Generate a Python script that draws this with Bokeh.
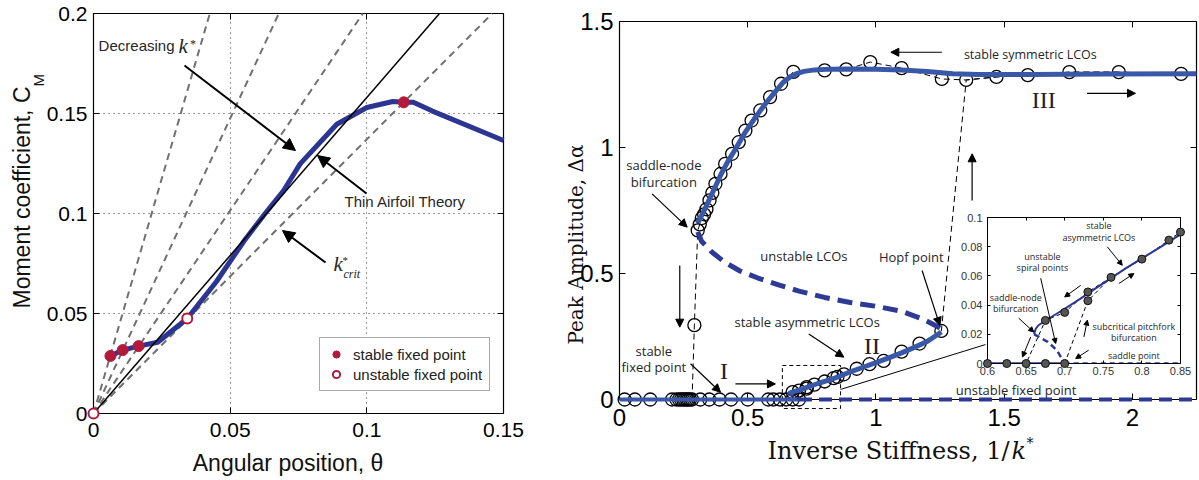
import numpy as np
from bokeh.plotting import figure
from bokeh.models import (Range1d, LinearAxis, FixedTicker, PrintfTickFormatter, Label,
                          Arrow, NormalHead, Legend, LegendItem, GridBox)
from bokeh.embed import file_html
from bokeh.resources import INLINE

SANS = "Liberation Sans"
SERIF = "DejaVu Serif"
ROMAN = "Liberation Serif"
NOTE = "Open Sans"

# ---------------- Left panel: static moment curve ----------------
curve_theta = [0.0062, 0.0107, 0.0165, 0.0235, 0.0343, 0.045, 0.055, 0.0625, 0.0695,
               0.0756, 0.089, 0.100, 0.1095, 0.1135, 0.117, 0.124, 0.150]
curve_cm = [0.0288, 0.0317, 0.0337, 0.0356, 0.0475, 0.066, 0.0861, 0.0995, 0.1114,
            0.1248, 0.1446, 0.1530, 0.1560, 0.1556, 0.1556, 0.1512, 0.1365]
stable_theta = [0.0062, 0.0107, 0.0165, 0.1135]
stable_cm = [0.0288, 0.0317, 0.0337, 0.1556]
unstable_theta = [0.0, 0.0343]
unstable_cm = [0.0, 0.0475]
spring_slopes = [4.7, 2.95, 2.03, 1.371]      # k* lines; the last is k*_crit
thin_airfoil_slope = 1.58
left_x_ticks = [0, 0.05, 0.1, 0.15]
left_y_ticks = [0, 0.05, 0.1, 0.15, 0.2]

# ---------------- Right panel: bifurcation diagram ----------------
fixed_x = [0.02, 0.06, 0.12, 0.205, 0.222, 0.232, 0.24, 0.248, 0.255, 0.262, 0.268, 0.275,
           0.283, 0.315, 0.35, 0.39, 0.435, 0.50, 0.58, 0.60, 0.625, 0.65, 0.675, 0.70]
fixed_y = [0.0, 0.0, 0.0, 0.0, 0.0, 0.0, 0.0, 0.0, 0.0, 0.0, 0.0, 0.0,
           0.0, 0.0, 0.0, 0.0, 0.0, 0.0, 0.0, 0.0, 0.0, 0.0, 0.0, 0.0]
jump_x = [0.292]
jump_y = [0.295]
asym_x = [0.675, 0.70, 0.73, 0.73, 0.76, 0.80, 0.835, 0.85, 0.875, 0.925, 0.975, 1.03,
          1.10, 1.17, 1.255]
asym_y = [0.0295, 0.035, 0.043, 0.049, 0.059, 0.0715, 0.0845, 0.090, 0.10, 0.122, 0.14,
          0.153, 0.19, 0.222, 0.272]
sym_x = [0.305, 0.313, 0.321, 0.33, 0.339, 0.351, 0.362, 0.374, 0.394, 0.412, 0.439, 0.465,
         0.491, 0.515, 0.549, 0.587, 0.63, 0.678, 0.80, 0.884, 0.978, 1.10, 1.257, 1.352,
         1.47, 1.592, 1.754, 1.947, 2.19]
sym_y = [0.671, 0.695, 0.72, 0.735, 0.755, 0.79, 0.82, 0.856, 0.895, 0.935, 0.975, 1.021,
         1.067, 1.107, 1.147, 1.20, 1.253, 1.30, 1.306, 1.31, 1.339, 1.315, 1.272, 1.268,
         1.28, 1.287, 1.299, 1.299, 1.292]

stable_fp_x = [0.0, 0.70]
stable_fp_y = [0.0, 0.0]
unstable_fp_x = [0.70, 2.25]
unstable_fp_y = [0.0, 0.0]
asym_line_x = [0.6603, 0.6625, 0.666, 0.68, 0.70, 0.72, 0.74, 0.76, 0.78, 0.80, 0.825,
               0.85, 0.90, 0.95, 1.00, 1.05, 1.10, 1.15, 1.20, 1.255]
asym_line_y = [0.0201, 0.0238, 0.0262, 0.031, 0.0375, 0.0443, 0.0515, 0.0585, 0.0655,
               0.072, 0.080, 0.0885, 0.11, 0.128, 0.146, 0.165, 0.185, 0.207, 0.23, 0.268]
spiral_x = [0.6603, 0.678, 0.69, 0.70]
spiral_y = [0.0201, 0.0148, 0.009, 0.0]
ulco_x = [0.305, 0.32, 0.36, 0.41, 0.47, 0.54, 0.62, 0.70, 0.80, 0.90, 1.00, 1.10, 1.18,
          1.23, 1.255]
ulco_y = [0.665, 0.628, 0.585, 0.545, 0.51, 0.482, 0.455, 0.43, 0.405, 0.385, 0.37, 0.35,
          0.32, 0.295, 0.28]
sym_line_x = [0.305, 0.33, 0.351, 0.374, 0.394, 0.42, 0.45, 0.49, 0.53, 0.57, 0.61, 0.64,
              0.665, 0.69, 0.72, 0.76, 0.82, 0.90, 1.0, 1.1, 1.2, 1.3, 1.4, 1.6, 1.9, 2.25]
sym_line_y = [0.70, 0.75, 0.795, 0.845, 0.89, 0.94, 0.99, 1.06, 1.12, 1.175, 1.225, 1.26,
              1.28, 1.293, 1.302, 1.308, 1.311, 1.312, 1.311, 1.308, 1.302, 1.293, 1.29,
              1.29, 1.292, 1.293]

# parameter sweeps (increasing / decreasing 1/k*)
sweep_up_x = [0.70, 0.73, 0.76, 0.80, 0.835, 0.85, 0.875, 0.925, 0.975, 1.03, 1.10, 1.17,
              1.255, 1.352, 1.47, 1.592, 1.754, 1.947, 2.19]
sweep_up_y = [0.0, 0.043, 0.059, 0.0715, 0.0845, 0.090, 0.10, 0.122, 0.14, 0.153, 0.19,
              0.222, 0.272, 1.268, 1.28, 1.287, 1.299, 1.299, 1.292]
sweep_down_x = [0.76, 0.73, 0.70, 0.675, 0.65]
sweep_down_y = [0.059, 0.049, 0.035, 0.0295, 0.0]
drop_x = [0.283, 0.292]
drop_y = [0.0, 0.295]

zoom_window_x = [0.635, 0.862]
zoom_window_y = [-0.036, 0.135]
connector_x = [0.862, 1.427]
connector_y = [0.04, 0.218]

right_x_ticks = [0, 0.5, 1, 1.5, 2]
right_y_ticks = [0, 0.5, 1, 1.5]
inset_x_ticks = [0.6, 0.65, 0.7, 0.75, 0.8, 0.85]
inset_y_ticks = [0, 0.02, 0.04, 0.06, 0.08, 0.1]

BLUE = "#3a58a8"
NAVY = "#2c3592"
DASH_BLUE = "#2e3b94"
RED = "#b3193b"


def style_axis(ax, ticks, size, standoff, tick_len=6, labels=True, width=1.2):
    ax.ticker = FixedTicker(ticks=ticks)
    ax.formatter = PrintfTickFormatter(format="%g")
    ax.major_tick_in = tick_len
    ax.major_tick_out = 0
    ax.minor_tick_line_color = None
    ax.axis_line_color = "black"
    ax.axis_line_width = width
    ax.major_tick_line_color = "black"
    ax.major_tick_line_width = 1
    ax.major_label_text_font = SANS
    if labels:
        ax.major_label_text_color = "black"
        ax.major_label_text_font_size = size
        ax.major_label_standoff = standoff
    else:
        ax.major_label_text_color = None
        ax.major_label_text_font_size = "1px"
        ax.major_label_standoff = 0


def base_fig(w, h, xr, yr, borders, **kw):
    bl, br, bt, bb = borders
    return figure(width=w, height=h, x_range=Range1d(*xr), y_range=Range1d(*yr), title=None,
                  output_backend="svg", toolbar_location=None, tools="",
                  min_border_left=bl, min_border_right=br, min_border_top=bt,
                  min_border_bottom=bb, **kw)


def overlay_fig(w, h, xr, yr, borders, pad=None):
    """Transparent figure sharing the pixel mapping of a base figure, with a wider frame."""
    bl, br, bt, bb = borders
    sx = (w - bl - br) / (xr[1] - xr[0])
    sy = (h - bt - bb) / (yr[1] - yr[0])
    el, er, et, eb = (bl, br, bt, bb) if pad is None else (pad, pad, pad, pad)
    p = figure(width=w, height=h, title=None,
               x_range=Range1d(xr[0] - el / sx, xr[1] + er / sx),
               y_range=Range1d(yr[0] - eb / sy, yr[1] + et / sy),
               x_axis_location=None, y_axis_location=None,
               output_backend="svg", toolbar_location=None, tools="",
               min_border_left=bl - el, min_border_right=br - er,
               min_border_top=bt - et, min_border_bottom=bb - eb,
               background_fill_color=None, border_fill_color=None, outline_line_color=None)
    p.grid.visible = False
    return p


def note(fig, x, y, text, size, font=NOTE, align="center", style="normal", angle=0.0,
         color="#262626"):
    fig.add_layout(Label(x=x, y=y, text=text, text_font=font, text_font_size=f"{size}px",
                         text_align=align, text_baseline="middle", text_font_style=style,
                         angle=angle, text_color=color))


def arrow(fig, x0, y0, x1, y1, head=8, width=1.2):
    fig.add_layout(Arrow(end=NormalHead(size=head, fill_color="black", line_color="black",
                                        line_width=1),
                         x_start=x0, y_start=y0, x_end=x1, y_end=y1,
                         line_width=width, line_color="black"))


def box_axes(p, xt, yt, size, xs, ys, tick_len=6, width=1.2, color="black"):
    style_axis(p.xaxis[0], xt, size, xs, tick_len=tick_len, width=width)
    style_axis(p.yaxis[0], yt, size, ys, tick_len=tick_len, width=width)
    p.xaxis[0].major_label_text_color = color
    p.yaxis[0].major_label_text_color = color
    top = LinearAxis()
    style_axis(top, xt, size, 0, tick_len=tick_len, labels=False, width=width)
    p.add_layout(top, "above")
    rgt = LinearAxis()
    style_axis(rgt, yt, size, 0, tick_len=tick_len, labels=False, width=width)
    p.add_layout(rgt, "right")


# ======================= left panel =======================
L_W, L_H, L_X, L_Y, L_B = 530, 480, (0, 0.15), (0, 0.2), (93, 27, 13, 67)
left = base_fig(L_W, L_H, L_X, L_Y, L_B, outline_line_color=None,
                background_fill_color="white", border_fill_color="white")
box_axes(left, left_x_ticks, left_y_ticks, "21px", 9, 6)
for g, t in ((left.xgrid[0], [0.05, 0.1]), (left.ygrid[0], [0.05, 0.1, 0.15])):
    g.ticker = FixedTicker(ticks=t)
    g.grid_line_color = "#333333"
    g.grid_line_dash = "1 4"
    g.grid_line_width = 1

lo = overlay_fig(L_W, L_H, L_X, L_Y, L_B)
line_xs, line_ys = [], []
for s in spring_slopes:
    xe = min(0.15, 0.2 / s)
    line_xs.append([0.0, xe])
    line_ys.append([0.0, s * xe])
lo.multi_line(line_xs, line_ys, line_color="#707070", line_width=2, line_dash="7 5")
lo.line(curve_theta, curve_cm, line_color=NAVY, line_width=5, line_join="round")
ta_end = 0.2 / thin_airfoil_slope
lo.line([0.0, ta_end], [0.0, thin_airfoil_slope * ta_end], line_color="black", line_width=1.5)
r_stable = lo.scatter(stable_theta, stable_cm, size=11, fill_color=RED, line_color=RED)
r_unstable = lo.scatter(unstable_theta, unstable_cm, size=10, fill_color="white",
                        line_color=RED, line_width=2)

legend = Legend(items=[LegendItem(label="stable fixed point", renderers=[r_stable]),
                       LegendItem(label="unstable fixed point", renderers=[r_unstable])],
                location=(319, 89), padding=7, spacing=2,
                glyph_width=18, glyph_height=18, label_height=18, label_standoff=8,
                label_text_font=SANS, label_text_font_size="15px", label_text_color="#222222",
                border_line_color="#555555", border_line_width=1,
                background_fill_color="white", background_fill_alpha=1.0)
lo.add_layout(legend)

note(lo, 0.02963, 0.1840, "Decreasing", 15, font=SANS, align="right")
note(lo, 0.0311, 0.1840, "k", 21, font=ROMAN, align="left", style="italic")
note(lo, 0.0353, 0.1850, "*", 12, font=ROMAN, align="left")
arrow(lo, 0.03329, 0.1740, 0.0739, 0.1315, head=12, width=2)
note(lo, 0.09183, 0.1060, "Thin Airfoil Theory", 15, font=SANS, align="left")
arrow(lo, 0.09988, 0.1100, 0.08195, 0.1290, head=12, width=2)
note(lo, 0.0878, 0.0750, "k", 21, font=ROMAN, align="left", style="italic")
note(lo, 0.0911, 0.0770, "*", 11, font=ROMAN, align="left")
note(lo, 0.09146, 0.0700, "crit", 12, font=ROMAN, align="left", style="italic")
arrow(lo, 0.08488, 0.0755, 0.06915, 0.0915, head=12, width=2)

note(lo, -0.02616, 0.1635, "Moment coefficient, C", 23, font=SANS, align="right",
     angle=np.pi / 2, color="#111111")
note(lo, -0.02012, 0.1635, "M", 15, font=SANS, align="left", angle=np.pi / 2,
     color="#111111")
note(lo, 0.07116, -0.0245, "Angular position, \u03b8", 23, font=SANS, color="#111111")

# ======================= right panel =======================
R_W, R_H, R_X, R_Y, R_B = 669, 480, (0, 2.25), (0, 1.5), (89, 3, 21, 81)
right = base_fig(R_W, R_H, R_X, R_Y, R_B, outline_line_color=None,
                 background_fill_color="white", border_fill_color="white")
right.xgrid.visible = False
right.ygrid.visible = False
box_axes(right, right_x_ticks, right_y_ticks, "24px", 9, 6)

ro = overlay_fig(R_W, R_H, R_X, R_Y, R_B)
# sweep paths and zoom window
ro.line(drop_x + sym_x, drop_y + sym_y, line_color="black", line_width=1, line_dash="6 4")
ro.line(sweep_up_x, sweep_up_y, line_color="black", line_width=1, line_dash="6 4")
ro.line(sweep_down_x, sweep_down_y, line_color="black", line_width=1, line_dash="6 4")
ro.quad(left=[zoom_window_x[0]], right=[zoom_window_x[1]], bottom=[zoom_window_y[0]],
        top=[zoom_window_y[1]], fill_color=None, line_color="black", line_width=1,
        line_dash="4 3")
ro.line(connector_x, connector_y, line_color="black", line_width=1)

# measured amplitudes
circ = dict(size=13, fill_color=None, line_color="black", line_width=1.3)
ro.scatter(fixed_x, fixed_y, **circ)
ro.scatter(jump_x, jump_y, **circ)
ro.scatter(asym_x, asym_y, **circ)
ro.scatter(sym_x, sym_y, **circ)

# computed branches
ro.line(unstable_fp_x, unstable_fp_y, line_color=DASH_BLUE, line_width=4, line_dash="13 7")
ro.line(stable_fp_x, stable_fp_y, line_color=BLUE, line_width=4)
ro.line(ulco_x, ulco_y, line_color=DASH_BLUE, line_width=5, line_dash="15 8")
ro.line(spiral_x, spiral_y, line_color=DASH_BLUE, line_width=3, line_dash="5 4")
ro.line(asym_line_x, asym_line_y, line_color=BLUE, line_width=5, line_join="round")
ro.line(sym_line_x, sym_line_y, line_color=BLUE, line_width=5, line_join="round")

note(ro, 1.602, 1.371, "stable symmetric LCOs", 12.5)
arrow(ro, 1.257, 1.378, 1.058, 1.378)
note(ro, 1.654, 1.187, "III", 24, font=ROMAN, color="#222222")
arrow(ro, 1.823, 1.215, 2.012, 1.215)
arrow(ro, 1.375, 0.79, 1.375, 0.975)
note(ro, 0.173, 0.931, "saddle-node", 13)
note(ro, 0.173, 0.865, "bifurcation", 13)
arrow(ro, 0.127, 0.816, 0.264, 0.684)
note(ro, 0.719, 0.571, "unstable LCOs", 13)
note(ro, 1.138, 0.565, "Hopf point", 13)
arrow(ro, 1.18, 0.512, 1.249, 0.294)
note(ro, 0.732, 0.307, "stable asymmetric LCOs", 13)
arrow(ro, 0.738, 0.26, 0.875, 0.168)
note(ro, 0.985, 0.214, "II", 24, font=ROMAN, color="#222222")
note(ro, 0.134, 0.194, "stable", 13)
note(ro, 0.134, 0.128, "fixed point", 13)
arrow(ro, 0.277, 0.142, 0.394, 0.029)
note(ro, 0.407, 0.112, "I", 24, font=ROMAN, color="#222222")
arrow(ro, 0.452, 0.062, 0.608, 0.062)
arrow(ro, 0.235, 0.532, 0.235, 0.287)
note(ro, 1.5465, 0.038, "unstable fixed point", 13)

note(ro, -0.1677, 0.615, "Peak Amplitude, \u0394\u03b1", 20, font=SERIF,
     angle=np.pi / 2, color="#111111")
note(ro, 1.5208, -0.2024, "Inverse Stiffness, 1/", 24, font=SERIF, align="right",
     color="#111111")
note(ro, 1.5286, -0.2024, "k", 24, font=SERIF, align="left", style="italic", color="#111111")
note(ro, 1.5871, -0.1746, "*", 14, font=SERIF, align="left", color="#111111")

# ======================= inset =======================
I_W, I_H, I_X, I_Y, I_B = 244, 173, (0.6, 0.85), (0, 0.1), (37, 14, 9, 18)
inset = base_fig(I_W, I_H, I_X, I_Y, I_B, outline_line_color=None,
                 background_fill_color="white", border_fill_color=None)
inset.xgrid.visible = False
inset.ygrid.visible = False
box_axes(inset, inset_x_ticks, inset_y_ticks, "11px", 3, 5, tick_len=3, width=1,
         color="#333333")
inset.line(unstable_fp_x, unstable_fp_y, line_color=DASH_BLUE, line_width=2.5, line_dash="5 4")
inset.line(stable_fp_x, stable_fp_y, line_color=NAVY, line_width=2.5)
inset.line(sweep_up_x, sweep_up_y, line_color="black", line_width=1, line_dash="4 3")
inset.line(sweep_down_x, sweep_down_y, line_color="black", line_width=1, line_dash="4 3")
inset.line(spiral_x, spiral_y, line_color=DASH_BLUE, line_width=2.5, line_dash="6 4")
inset.line(asym_line_x, asym_line_y, line_color=NAVY, line_width=2)

io = overlay_fig(I_W, I_H, I_X, I_Y, I_B, pad=5)
dot = dict(size=8, fill_color="#555555", line_color="#111111", line_width=1)
io.scatter(fixed_x, fixed_y, **dot)
io.scatter(asym_x, asym_y, **dot)

note(io, 0.7443, 0.0947, "stable", 9)
note(io, 0.7443, 0.0862, "asymmetric LCOs", 9)
arrow(io, 0.7552, 0.0799, 0.7746, 0.0673, head=5, width=1)
note(io, 0.6711, 0.0730, "unstable", 9)
note(io, 0.6711, 0.0658, "spiral points", 9)
arrow(io, 0.6689, 0.0584, 0.6883, 0.0137, head=5, width=1)
note(io, 0.6366, 0.0452, "saddle-node", 9)
note(io, 0.6366, 0.0377, "bifurcation", 9)
arrow(io, 0.6405, 0.0310, 0.6599, 0.0216, head=5, width=1)
note(io, 0.7896, 0.0251, "subcritical pitchfork", 9)
note(io, 0.7896, 0.0178, "bifurcation", 9)
note(io, 0.7896, 0.0057, "saddle point", 9)
arrow(io, 0.7310, 0.0091, 0.7142, 0.0034, head=5, width=1)
arrow(io, 0.6560, 0.0182, 0.6453, 0.0045, head=5, width=1)
arrow(io, 0.7249, 0.0182, 0.7293, 0.0297, head=5, width=1)
arrow(io, 0.7207, 0.0535, 0.7000, 0.0456, head=5, width=1)
arrow(io, 0.7702, 0.0548, 0.7896, 0.0616, head=5, width=1)

# Grid tracks: zero-size tracks give every figure its own start/end lines so that
# figures stacked in the same area keep their own borders.
row_tracks = ["0px", "0px", "0px", "0px", "208px", "0px", "173px", "0px", "99px",
              "0px", "0px", "0px"]
col_tracks = ["0px", "530px", "0px", "0px", "420px", "0px", "244px", "0px", "5px", "0px"]
layout = GridBox(children=[(left, 0, 0, 9, 2), (lo, 1, 1, 9, 2),
                           (right, 2, 2, 9, 7), (ro, 3, 3, 9, 7),
                           (inset, 5, 5, 2, 2), (io, 6, 6, 2, 2)],
                 rows=row_tracks, cols=col_tracks, spacing=0)

with open("out.html", "w") as f:
    f.write(file_html(layout, INLINE))
